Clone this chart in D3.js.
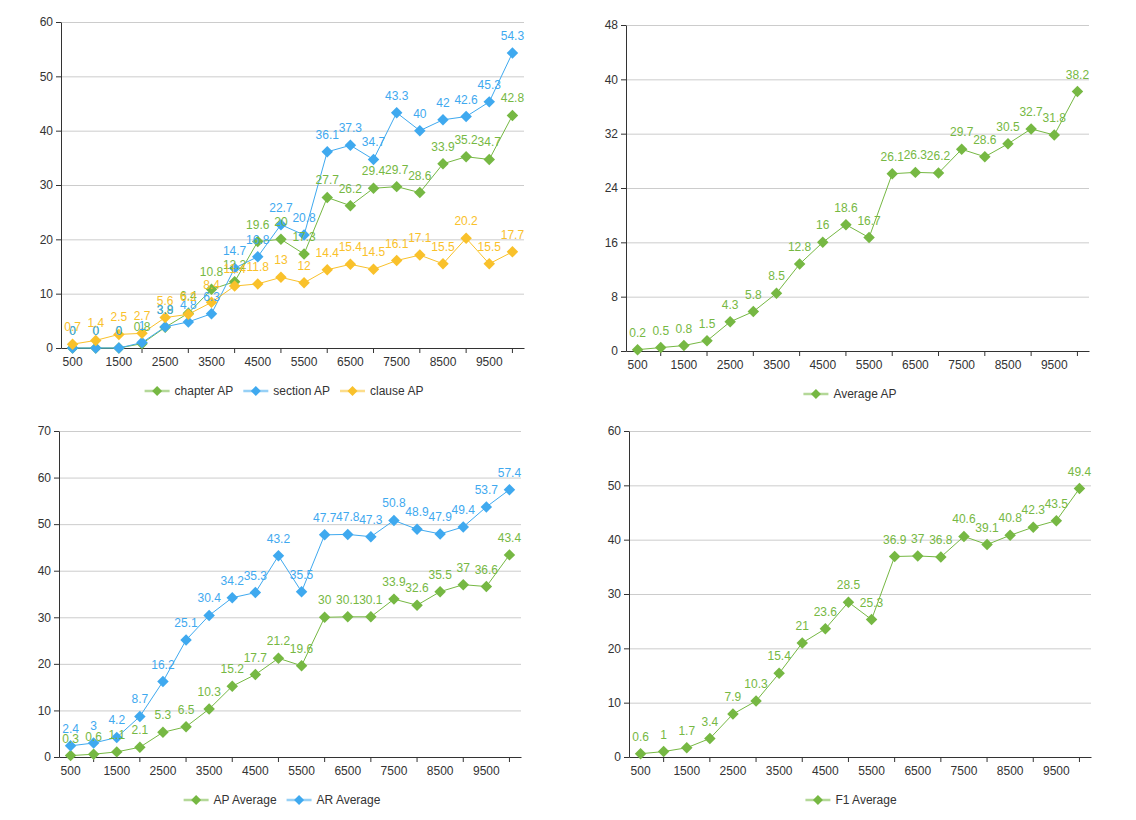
<!DOCTYPE html>
<html><head><meta charset="utf-8">
<script src="https://cdn.jsdelivr.net/npm/d3@7"></script>
<style>body{margin:0;background:#fff} svg{display:block;font-family:"Liberation Sans",Arial,sans-serif}</style>
</head><body><svg id="c" width="1136" height="820"></svg>
<script>
const categories = [500,1000,1500,2000,2500,3000,3500,4000,4500,5000,5500,6000,6500,7000,7500,8000,8500,9000,9500,10000];
const tickLabels = ["500","1500","2500","3500","4500","5500","6500","7500","8500","9500"];

const chapterAP = [0,0,0,0.8,3.8,6.4,10.8,12.2,19.6,20,17.3,27.7,26.2,29.4,29.7,28.6,33.9,35.2,34.7,42.8];
const sectionAP = [0,0,0,1,3.9,4.8,6.3,14.7,16.8,22.7,20.8,36.1,37.3,34.7,43.3,40,42,42.6,45.3,54.3];
const clauseAP  = [0.7,1.4,2.5,2.7,5.6,6.2,8.4,11.4,11.8,13,12,14.4,15.4,14.5,16.1,17.1,15.5,20.2,15.5,17.7];

const averageAP = [0.2,0.5,0.8,1.5,4.3,5.8,8.5,12.8,16,18.6,16.7,26.1,26.3,26.2,29.7,28.6,30.5,32.7,31.8,38.2];

const apAverage = [0.3,0.6,1.1,2.1,5.3,6.5,10.3,15.2,17.7,21.2,19.6,30,30.1,30.1,33.9,32.6,35.5,37,36.6,43.4];
const arAverage = [2.4,3,4.2,8.7,16.2,25.1,30.4,34.2,35.3,43.2,35.5,47.7,47.8,47.3,50.8,48.9,47.9,49.4,53.7,57.4];

const f1Average = [0.6,1,1.7,3.4,7.9,10.3,15.4,21,23.6,28.5,25.3,36.9,37,36.8,40.6,39.1,40.8,42.3,43.5,49.4];

const GREEN = "#76b843", BLUE = "#3fa9ef", YELLOW = "#f9c12b";

const panels = [
  {left:61, right:524, top:22, bottom:348, yMax:60, yStep:10, legendY:391, cx:284,
   series:[{name:"chapter AP", data:chapterAP, color:GREEN},{name:"section AP", data:sectionAP, color:BLUE},{name:"clause AP", data:clauseAP, color:YELLOW}]},
  {left:626, right:1089, top:25, bottom:351, yMax:48, yStep:8, legendY:394, cx:850,
   series:[{name:"Average AP", data:averageAP, color:GREEN}]},
  {left:59, right:521, top:431, bottom:757, yMax:70, yStep:10, legendY:800, cx:282,
   series:[{name:"AP Average", data:apAverage, color:GREEN},{name:"AR Average", data:arAverage, color:BLUE}]},
  {left:629, right:1091, top:431, bottom:757, yMax:60, yStep:10, legendY:800, cx:851,
   series:[{name:"F1 Average", data:f1Average, color:GREEN}]}
];

const svg = d3.select("#c");
const diamond = d3.symbol().type(d3.symbolSquare).size(66);
const legDiamond = d3.symbol().type(d3.symbolSquare).size(50);

panels.forEach(p => {
  const g = svg.append("g");
  const x = d3.scaleBand().domain(categories).range([p.left, p.right]).padding(0);
  const y = d3.scaleLinear().domain([0, p.yMax]).range([p.bottom, p.top]);
  const cxp = c => x(c) + x.bandwidth()/2;
  const yTicks = d3.range(0, p.yMax + 0.001, p.yStep);

  // grid
  const grid = g.append("g").attr("transform", `translate(${p.left},0)`)
    .call(d3.axisLeft(y).tickValues(yTicks).tickSize(-(p.right - p.left)).tickFormat(""));
  grid.select(".domain").remove();
  grid.selectAll("line").attr("stroke", "#cccccc");

  // y axis
  const ya = g.append("g").attr("transform", `translate(${p.left},0)`)
    .call(d3.axisLeft(y).tickValues(yTicks).tickSize(5).tickSizeOuter(0).tickPadding(3));
  ya.select(".domain").attr("stroke", "#333");
  ya.selectAll(".tick line").attr("stroke", "#333");
  ya.selectAll("text").attr("fill", "#333").attr("font-size", 12).attr("font-family", null);

  // x axis
  const xa = g.append("g").attr("transform", `translate(0,${p.bottom})`)
    .call(d3.axisBottom(x).tickSize(5).tickSizeOuter(0).tickPadding(4)
      .tickFormat(c => tickLabels.includes(String(c)) ? String(c) : ""));
  xa.select(".domain").attr("stroke", "#333");
  xa.selectAll(".tick").each(function(c, i){
    const t = d3.select(this);
    t.select("line").attr("stroke", "#333").attr("display", i % 2 === 1 ? null : "none");
  });
  xa.selectAll("text").attr("fill", "#333").attr("font-size", 12).attr("font-family", null);

  // series lines + symbols
  p.series.forEach(s => {
    const line = d3.line().x((d,i) => cxp(categories[i])).y(d => y(d));
    g.append("path").datum(s.data).attr("d", line).attr("fill", "none")
      .attr("stroke", s.color).attr("stroke-width", 1);
    g.append("g").selectAll("path").data(s.data).join("path")
      .attr("d", diamond)
      .attr("transform", (d,i) => `translate(${cxp(categories[i])},${y(d)}) rotate(45)`)
      .attr("fill", s.color);
  });
  // labels on top
  p.series.forEach(s => {
    g.append("g").selectAll("text").data(s.data).join("text")
      .attr("x", (d,i) => cxp(categories[i]))
      .attr("y", d => y(d) - 13)
      .attr("text-anchor", "middle")
      .attr("font-size", 12)
      .attr("fill", s.color)
      .text(d => String(d));
  });

  // legend
  const lg = g.append("g");
  let items = p.series.map(s => {
    const t = lg.append("text").attr("font-size", 12).attr("fill", "#333").text(s.name);
    const w = t.node().getComputedTextLength();
    return {s, t, w};
  });
  const gap = 10, symW = 25, symGap = 5;
  const total = d3.sum(items, it => symW + symGap + it.w) + gap * (items.length - 1);
  let cx = p.cx - total / 2;
  items.forEach(it => {
    lg.append("line").attr("x1", cx).attr("x2", cx + symW)
      .attr("y1", p.legendY).attr("y2", p.legendY)
      .attr("stroke", it.s.color).attr("stroke-width", 2.5).attr("stroke-opacity", 0.55);
    lg.append("path").attr("d", legDiamond)
      .attr("transform", `translate(${cx + symW/2},${p.legendY}) rotate(45)`)
      .attr("fill", it.s.color);
    it.t.attr("x", cx + symW + symGap).attr("y", p.legendY + 4);
    cx += symW + symGap + it.w + gap;
  });
});
</script>
</body></html>
